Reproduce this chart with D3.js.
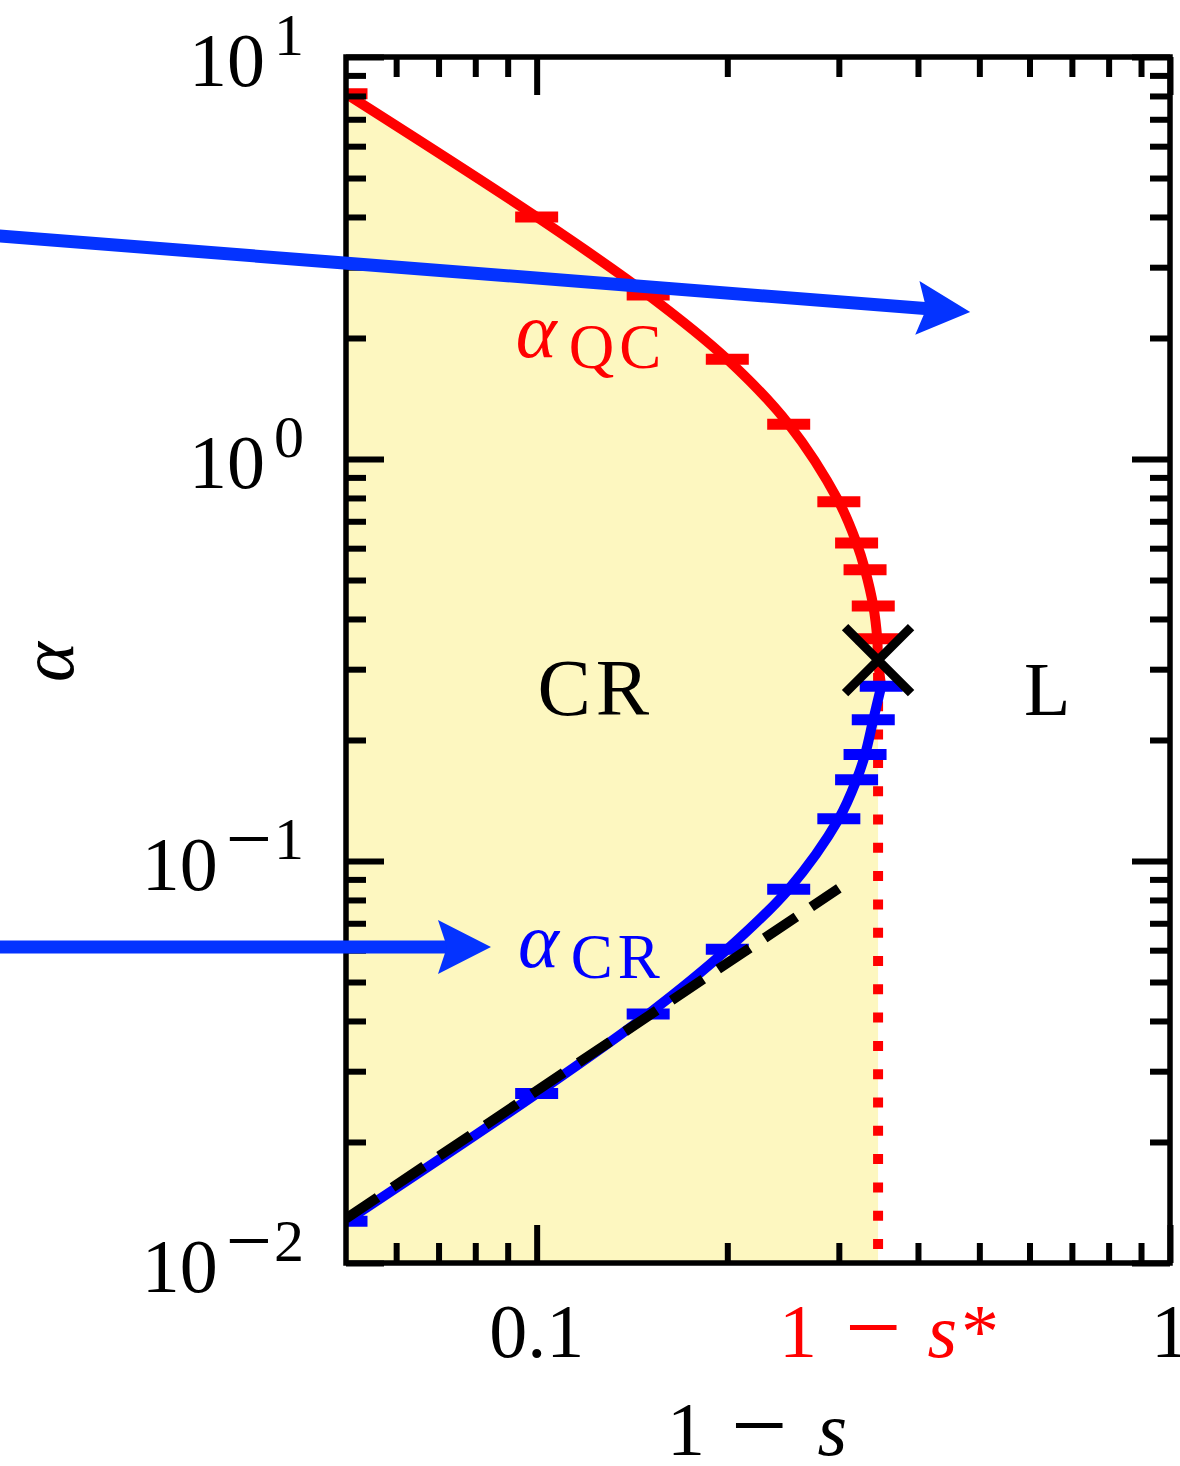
<!DOCTYPE html>
<html>
<head>
<meta charset="utf-8">
<script src="https://cdn.jsdelivr.net/npm/d3@7"></script>
<style>
  html, body { margin: 0; padding: 0; background: #fff; }
  svg { display: block; }
  text { font-family: "Liberation Serif", "Times New Roman", serif; }
</style>
</head>
<body>
<svg id="chart" width="1180" height="1466"></svg>
<script>
// ---- data -------------------------------------------------------------
// α_QC boundary (red): 1 − s and α
const qcS     = [0.05, 0.10, 0.15, 0.20, 0.25, 0.30, 0.32, 0.33, 0.34, 0.345];
const qcAlpha = [8.1, 4.0, 2.56, 1.77, 1.22, 0.783, 0.618, 0.530, 0.431, 0.357];
// α_CR boundary (blue)
const crS     = [0.05, 0.10, 0.15, 0.20, 0.25, 0.30, 0.32, 0.33, 0.34, 0.35];
const crAlpha = [0.0127, 0.0264, 0.0416, 0.0603, 0.0851, 0.1274, 0.1593, 0.184, 0.2246, 0.272];
// small (1 − s) asymptote of α_CR
const asymS     = [0.05, 0.30];
const asymAlpha = [0.0129, 0.0855];
// critical point (1 − s*, α*)
const sStar = 0.346;
const alphaStar = 0.316;
// annotation arrows, [1 − s, α] from → to
const arrowFrom = [[0.0135, 3.61], [0.0135, 0.0611]];
const arrowTo   = [[0.4836, 2.32], [0.0847, 0.0611]];
// ticks
const xMajor = [0.1, 1];
const xMinor = [0.06, 0.07, 0.08, 0.09, 0.2, 0.3, 0.4, 0.5, 0.6, 0.7, 0.8, 0.9];
const yMajor = [0.01, 0.1, 1, 10];
const yExpSign = [true, true, false, false];
const yExpDigit = ["2", "1", "0", "1"];
const yMinor = [0.02, 0.03, 0.04, 0.05, 0.06, 0.07, 0.08, 0.09,
                0.2, 0.3, 0.4, 0.5, 0.6, 0.7, 0.8, 0.9,
                2, 3, 4, 5, 6, 7, 8, 9];

// ---- layout -----------------------------------------------------------
const PL = 346, PR = 1170, PT = 57, PB = 1263;
const RED = "#ff0000", BLUE = "#0000ff", ARROW = "#0433ff", FILL = "#fdf7c0";
const MINUS = "\u2212";

const x = d3.scaleLog().domain([0.05, 1]).range([PL, PR]);
const y = d3.scaleLog().domain([0.01, 10]).range([PB, PT]);

const svg = d3.select("#chart");
svg.append("defs").append("clipPath").attr("id", "plot")
  .append("rect").attr("x", PL).attr("y", PT).attr("width", PR - PL).attr("height", PB - PT);

const qc = qcS.map((s, i) => [s, qcAlpha[i]]);
const cr = crS.map((s, i) => [s, crAlpha[i]]);
const crit = [sStar, alphaStar];

const curve = d3.line().x(d => x(d[0])).y(d => y(d[1])).curve(d3.curveCatmullRom.alpha(0.5));
const straight = d3.line().x(d => x(d[0])).y(d => y(d[1]));

const plot = svg.append("g").attr("clip-path", "url(#plot)");

// CR region: below α_QC and left of 1 − s*
const qcEdge = curve([...qc, crit]);
plot.append("path")
  .attr("d", qcEdge + `L${x(sStar)},${y(0.01)}L${x(0.05)},${y(0.01)}Z`)
  .attr("fill", FILL);

// 1 − s* (dotted)
plot.append("path")
  .attr("d", straight([[sStar, 0.01], crit]))
  .attr("stroke", RED).attr("stroke-width", 10)
  .attr("stroke-dasharray", "10,18.3").attr("stroke-dashoffset", 14.3)
  .attr("fill", "none");

// boundaries
plot.append("path").attr("d", curve(cr))
  .attr("stroke", BLUE).attr("stroke-width", 10).attr("fill", "none");
plot.append("path").attr("d", curve([...qc, crit, cr[cr.length - 1]]))
  .attr("stroke", RED).attr("stroke-width", 10).attr("fill", "none");

// data markers (horizontal bars)
function bars(data, color) {
  plot.append("g").selectAll("line").data(data).join("line")
    .attr("x1", d => x(d[0]) - 21.5).attr("x2", d => x(d[0]) + 21.5)
    .attr("y1", d => y(d[1])).attr("y2", d => y(d[1]))
    .attr("stroke", color).attr("stroke-width", 11);
}
bars(cr, BLUE);
bars(qc, RED);

// asymptote
plot.append("path")
  .attr("d", straight(asymS.map((s, i) => [s, asymAlpha[i]])))
  .attr("stroke", "#000").attr("stroke-width", 10)
  .attr("stroke-dasharray", "38,18").attr("fill", "none");

// critical point
const cx = x(sStar), cy = y(alphaStar), h = 33;
svg.append("path")
  .attr("d", `M${cx - h},${cy - h}L${cx + h},${cy + h}M${cx - h},${cy + h}L${cx + h},${cy - h}`)
  .attr("stroke", "#000").attr("stroke-width", 9).attr("fill", "none");

// ---- frame and ticks --------------------------------------------------
function ticks(axis, tr, vals, len) {
  const g = svg.append("g").attr("transform", tr)
    .call(axis.tickValues(vals).tickSize(-len).tickSizeOuter(0).tickFormat(""));
  g.select(".domain").remove();
  g.selectAll(".tick line").attr("stroke", "#000").attr("stroke-width", 6);
}
[[xMinor, 20], [xMajor, 38]].forEach(([v, len]) => {
  ticks(d3.axisBottom(x), `translate(0,${PB})`, v, len);
  ticks(d3.axisTop(x), `translate(0,${PT})`, v, len);
});
[[yMinor, 20], [yMajor, 38]].forEach(([v, len]) => {
  ticks(d3.axisLeft(y), `translate(${PL},0)`, v, len);
  ticks(d3.axisRight(y), `translate(${PR},0)`, v, len);
});
svg.append("rect").attr("x", PL).attr("y", PT).attr("width", PR - PL).attr("height", PB - PT)
  .attr("fill", "none").attr("stroke", "#000").attr("stroke-width", 5.5);

// ---- tick labels ------------------------------------------------------
// a wide minus sign: drawn larger and lowered so it sits at math-axis height
function minus(t, size, dx, lower) {
  t.append("tspan").attr("dx", dx).attr("dy", lower).attr("font-size", size).text(MINUS);
}

yMajor.forEach((v, i) => {
  const t = svg.append("text").attr("x", 304).attr("y", y(v) + 29)
    .attr("text-anchor", "end").attr("font-size", 76).attr("fill", "#000");
  t.append("tspan").text("10");
  if (yExpSign[i]) {
    minus(t, 82, 8, -24);
    t.append("tspan").attr("dx", 2).attr("dy", -7).attr("font-size", 60).text(yExpDigit[i]);
  } else {
    t.append("tspan").attr("dx", 9).attr("dy", -31).attr("font-size", 60).text(yExpDigit[i]);
  }
});

const xLab = 1357;
svg.append("text").attr("x", x(0.1)).attr("y", xLab).attr("text-anchor", "middle")
  .attr("font-size", 76).text("0.1");
svg.append("text").attr("x", x(1)).attr("y", xLab).attr("text-anchor", "middle")
  .attr("font-size", 76).text("1");
{
  const t = svg.append("text").attr("x", x(sStar) - 99).attr("y", xLab)
    .attr("font-size", 76).attr("fill", RED);
  t.append("tspan").text("1");
  minus(t, 100, 28, 4);
  t.append("tspan").attr("dx", 26).attr("dy", -4).attr("font-style", "italic").text("s");
  t.append("tspan").attr("dx", 4).text("*");
}

// axis titles
{
  const t = svg.append("text").attr("x", 667).attr("y", 1455).attr("font-size", 76);
  t.append("tspan").text("1");
  minus(t, 100, 26, 4);
  t.append("tspan").attr("dx", 30).attr("dy", -4).attr("font-style", "italic").text("s");
}
svg.append("text").attr("transform", "translate(73,662) rotate(-90)")
  .attr("text-anchor", "middle").attr("font-size", 76).attr("font-style", "italic")
  .text("\u03b1");

// ---- region and curve labels -----------------------------------------
svg.append("text").attr("x", x(0.124)).attr("y", y(0.231)).attr("text-anchor", "middle")
  .attr("font-size", 80).attr("letter-spacing", 5).text("CR");
svg.append("text").attr("x", x(0.64)).attr("y", y(0.231)).attr("text-anchor", "middle")
  .attr("font-size", 76).text("L");

function subLabel(s, a, sub, color) {
  const t = svg.append("text").attr("x", x(s)).attr("y", y(a)).attr("fill", color).attr("font-size", 78);
  t.append("tspan").attr("font-style", "italic").text("\u03b1");
  t.append("tspan").attr("dx", 12).attr("dy", 11).attr("font-size", 63).attr("letter-spacing", 5).text(sub);
}
subLabel(0.0927, 1.794, "QC", RED);
subLabel(0.0934, 0.0545, "CR", BLUE);

// ---- arrows -----------------------------------------------------------
function arrow(p0, p1) {
  const x0 = x(p0[0]), y0 = y(p0[1]), x1 = x(p1[0]), y1 = y(p1[1]);
  const dx = x1 - x0, dy = y1 - y0, len = Math.hypot(dx, dy);
  const ux = dx / len, uy = dy / len, px = -uy, py = ux;
  const headLen = 53, halfW = 27, notch = 9;
  const bx = x1 - ux * headLen, by = y1 - uy * headLen;
  const nx = x1 - ux * (headLen - notch), ny = y1 - uy * (headLen - notch);
  svg.append("line").attr("x1", x0).attr("y1", y0).attr("x2", nx + ux * 2).attr("y2", ny + uy * 2)
    .attr("stroke", ARROW).attr("stroke-width", 13);
  svg.append("path")
    .attr("d", `M${x1},${y1}L${bx + px * halfW},${by + py * halfW}L${nx},${ny}L${bx - px * halfW},${by - py * halfW}Z`)
    .attr("fill", ARROW);
}
arrowFrom.forEach((p, i) => arrow(p, arrowTo[i]));
</script>
</body>
</html>
